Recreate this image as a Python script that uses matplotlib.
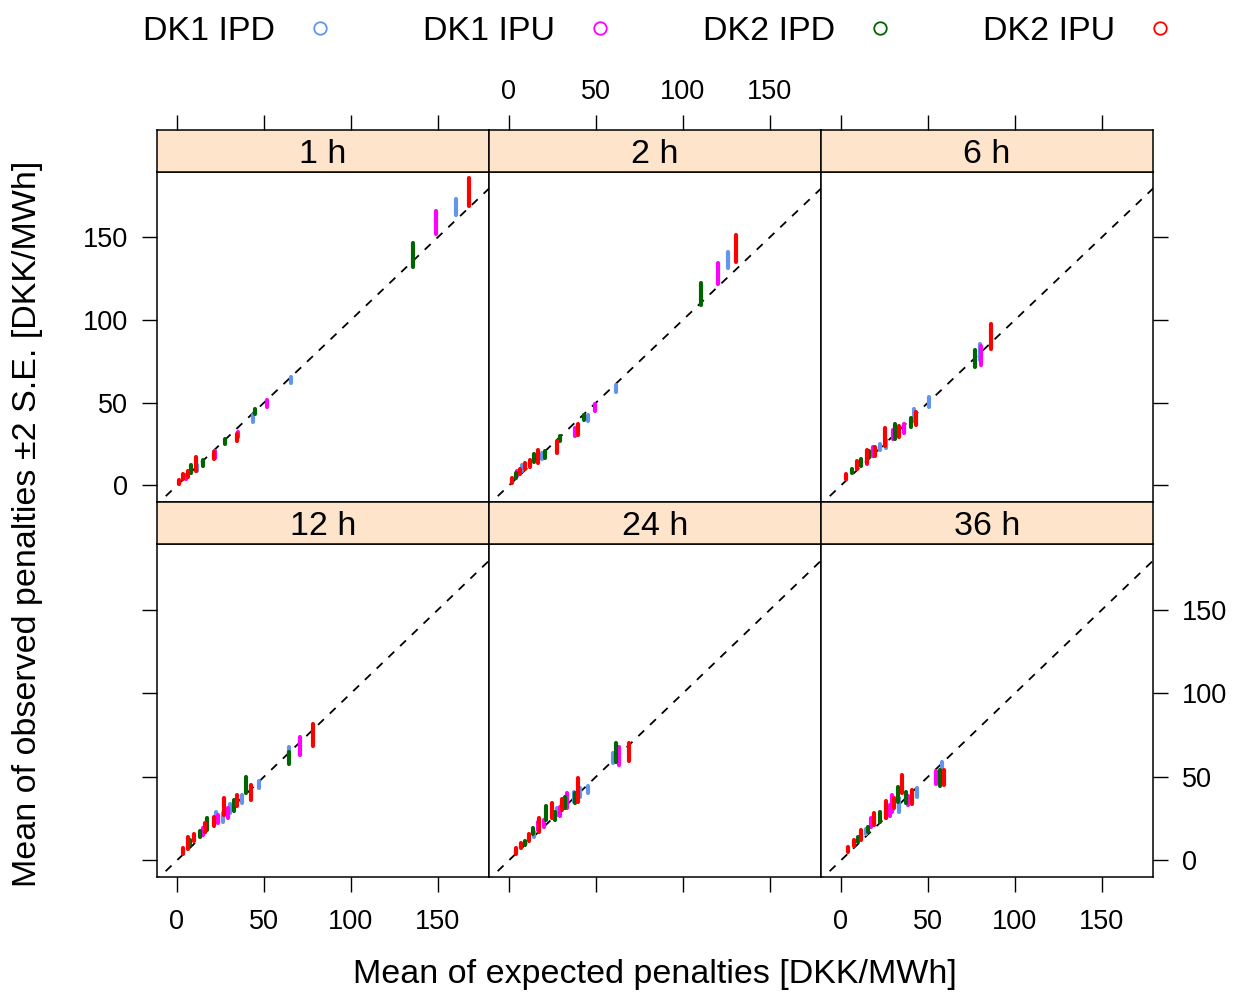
import matplotlib
matplotlib.use("Agg")
import matplotlib.pyplot as plt
from matplotlib.lines import Line2D

plt.rcParams["font.family"] = ["Liberation Sans", "DejaVu Sans"]

# series: B = DK1 IPD, M = DK1 IPU, G = DK2 IPD, R = DK2 IPU
series_names = ["DK1 IPD", "DK1 IPU", "DK2 IPD", "DK2 IPU"]
series_codes = ["B", "M", "G", "R"]
series_colors = {"B": "#6495ED", "M": "#FF00FF", "G": "#006400", "R": "#FF0000"}

panel_titles = ["1 h", "2 h", "6 h", "12 h", "24 h", "36 h"]

# each row: (series, mean expected, lower, upper)
h1 = [
    ("R", 168, 169, 186), ("B", 160.5, 163.7, 173.3), ("M", 149, 151.8, 165.8),
    ("G", 136, 132.1, 146.6), ("B", 65.7, 61.8, 65.8), ("M", 51.7, 47.4, 51.8),
    ("G", 44.6, 43.4, 46.4), ("B", 44, 38.4, 42.4), ("R", 34.5, 26.7, 31.3),
    ("M", 35.3, 29, 32.1), ("G", 27.8, 25.3, 28.1), ("M", 22, 16.7, 20.7),
    ("R", 21.1, 15.7, 20.1), ("G", 14.8, 12, 15.2), ("R", 11.1, 8.6, 17.3),
    ("B", 11.4, 9, 12.2), ("G", 8.2, 7.6, 12.2), ("R", 6.1, 5.2, 8.6),
    ("M", 5, 4, 6.4), ("R", 3.7, 4, 7.2), ("R", 1, 0.6, 3.6),
]
h2 = [
    ("R", 130.6, 135.1, 151.2), ("B", 126.2, 131.7, 141.2), ("M", 120.3, 121.5, 134.7),
    ("G", 110.7, 109, 122.5), ("B", 61.3, 56.8, 60.8), ("M", 49.4, 44.8, 49.2),
    ("G", 42.9, 39.8, 42.8), ("B", 45.3, 38.8, 42.8), ("R", 39.8, 30.7, 37.3),
    ("M", 37.9, 29.7, 34.7), ("G", 29.1, 26.7, 29.7), ("R", 27.8, 19.7, 26.7),
    ("G", 20.5, 16.3, 20.7), ("B", 18.8, 16.1, 19.7), ("R", 16.9, 13.7, 21.7),
    ("G", 14.6, 14.1, 19.3), ("R", 11.9, 11, 15.3), ("R", 9.2, 9.7, 13.7),
    ("B", 7.7, 8.7, 12.1), ("R", 6.1, 6.7, 10.1), ("M", 4.8, 5.7, 8.7),
    ("G", 3.8, 4.7, 7.3), ("R", 1.5, 1.7, 4.7),
]
h6 = [
    ("R", 86.4, 82.3, 97.6), ("B", 79.9, 75.9, 85.5), ("M", 80.8, 72.9, 84.3),
    ("G", 77, 71.5, 81.9), ("B", 50.4, 47.2, 53.2), ("B", 42.1, 38.7, 46.2),
    ("R", 42.9, 36.7, 44.2), ("G", 40.2, 35.4, 40.8), ("M", 36, 31.7, 37.3),
    ("R", 33.5, 29.3, 36.1), ("G", 31, 28.1, 37.3), ("M", 29.7, 28.1, 33.3),
    ("R", 25.3, 23.7, 34.7), ("B", 25.9, 22.7, 27.7), ("B", 22.4, 21.7, 25.3),
    ("R", 19.7, 17.7, 23.3), ("M", 18.2, 18.1, 23.3), ("G", 16.3, 17.3, 20.7),
    ("R", 14.8, 13.3, 21.7), ("M", 14.8, 12.7, 17.3), ("G", 11.5, 11.7, 15.7),
    ("R", 9, 9.7, 14.7), ("G", 6.1, 7.3, 9.7), ("R", 2.9, 3.7, 6.7),
]
h12 = [
    ("R", 78, 68.7, 81.7), ("M", 70.9, 63.3, 73.7), ("B", 64.5, 61.3, 67.7),
    ("G", 64.2, 57.8, 64.9), ("B", 47, 43.2, 47.6), ("G", 39.8, 40.2, 49.8),
    ("R", 42.5, 36.1, 45.2), ("R", 34.5, 32.7, 39.2), ("B", 37.4, 34.1, 39.2),
    ("G", 32.6, 29.5, 36.1), ("B", 30.7, 28.1, 33.7), ("M", 29.3, 25.5, 31.1),
    ("R", 26.8, 27.1, 37.2), ("B", 26.4, 23.1, 28.1), ("M", 23.6, 22.1, 27.1),
    ("B", 22.6, 24.1, 29.1), ("G", 17.2, 18.1, 25.1), ("R", 21.1, 20.7, 26.1),
    ("R", 15.9, 17.1, 22.1), ("M", 14.8, 15.1, 19.5), ("G", 13.4, 14.1, 17.5),
    ("R", 9.9, 11.5, 15.5), ("R", 6.3, 7, 14.1), ("G", 7.7, 9.1, 12.1),
    ("R", 3.4, 4, 7.1),
]
h24 = [
    ("R", 69, 59.2, 70.3), ("M", 63.2, 57.2, 67.7), ("G", 61.7, 58.8, 70.3),
    ("B", 59.8, 58.2, 64.3), ("B", 45.6, 40.2, 44.8), ("R", 39.8, 35.1, 49.2),
    ("B", 40.6, 38.2, 43.2), ("G", 38.2, 34.1, 40.2), ("B", 37.4, 35.1, 40.8),
    ("M", 33.5, 31.1, 40.2), ("G", 32.2, 31.1, 38.2), ("R", 30.3, 30.1, 36.7),
    ("M", 29.1, 26.7, 32.1), ("B", 27.8, 27.1, 31.5), ("G", 26.4, 24.1, 29.1),
    ("R", 24.5, 25.1, 34.1), ("G", 21.5, 24.1, 32.7), ("M", 20.1, 20.1, 24.1),
    ("R", 17.2, 17.1, 25.5), ("M", 16.9, 18.1, 22.7), ("G", 13.8, 15.5, 19.1),
    ("B", 14.4, 14.1, 17.1), ("R", 11.5, 11.5, 15.5), ("G", 9.2, 9.1, 11.5),
    ("R", 6.7, 7.5, 10.5), ("R", 3.8, 4, 7.1),
]
h36 = [
    ("B", 57.9, 51.2, 58.8), ("R", 59.3, 45.2, 54.2), ("G", 56.9, 44.8, 54.2),
    ("M", 54.6, 45.6, 53.6), ("B", 43.7, 38.2, 43.2), ("R", 41, 33.6, 42.2),
    ("M", 38.5, 33.1, 38.8), ("G", 37.6, 34.1, 41.2), ("R", 35.1, 40.2, 51.2),
    ("G", 32.8, 35.1, 44.2), ("B", 33.6, 29.1, 37.2), ("M", 29.1, 29.1, 39.2),
    ("R", 30.7, 31.1, 37.6), ("M", 28.2, 26.5, 33.1), ("R", 25.9, 25.5, 35.6),
    ("M", 25.9, 25.1, 30.1), ("G", 22.6, 23.1, 29.1), ("R", 18.8, 21.1, 28.1),
    ("M", 17.2, 20.1, 25.1), ("G", 15.3, 16.7, 20.1), ("B", 14.4, 15.5, 18.7),
    ("R", 11.5, 12.1, 18.1), ("G", 9.9, 11.1, 14.1), ("R", 7.3, 8.7, 12.1),
    ("R", 4.2, 5.1, 8.1),
]
panels = [h1, h2, h6, h12, h24, h36]

ticks = [0, 50, 100, 150]
xlim = (-11.5, 179.5)
ylim = (-10, 189.5)

W, H = 1234, 992
fig = plt.figure(figsize=(W / 100, H / 100), dpi=100)


def rect(left, top, width, height):
    return [left / W, 1 - (top + height) / H, width / W, height / H]


col_left = [157, 489, 821]
row_top = [172, 544]
row_h = [330, 333]
strip_h = 42
tick_font = 19.5
big_font = 24.5

for i, data in enumerate(panels):
    r, c = divmod(i, 3)
    ax = fig.add_axes(rect(col_left[c], row_top[r], 332, row_h[r]))
    st = fig.add_axes(rect(col_left[c], row_top[r] - strip_h, 332, strip_h))

    # y = x reference
    ax.plot([-20, 200], [-20, 200], color="black", lw=1.3, ls=(0, (4.5, 4.5)))
    for code in series_codes:
        for s, xm, lo, hi in data:
            if s == code:
                ax.plot([xm, xm], [lo, hi], color=series_colors[code], lw=3.0,
                        solid_capstyle="round")
    ax.set_xlim(xlim)
    ax.set_ylim(ylim)
    ax.set_xticks(ticks)
    ax.set_yticks(ticks)
    for sp in ax.spines.values():
        sp.set_linewidth(1.1)
    ax.tick_params(direction="out", length=10.8, width=1.0, labelsize=tick_font,
                   pad=10)
    ax.tick_params(axis="x", pad=12)

    # x axis: top row gets ticks above strip, bottom row gets ticks below panel
    if r == 0:
        ax.tick_params(axis="x", bottom=False, labelbottom=False, top=False, labeltop=False)
    else:
        ax.tick_params(axis="x", bottom=True, labelbottom=(c != 1), top=False, labeltop=False)
    # y axis: left column ticks on left, right column ticks on right
    ax.tick_params(axis="y", left=(c == 0), labelleft=(c == 0 and r == 0),
                   right=(c == 2), labelright=(c == 2 and r == 1))

    st.set_facecolor("#FDE4CB")
    st.set_xlim(xlim)
    st.set_yticks([])
    for sp in st.spines.values():
        sp.set_linewidth(1.1)
    if r == 0:
        st.set_xticks(ticks)
        st.tick_params(axis="x", direction="out", length=10.8, width=1.0,
                       labelsize=tick_font, pad=7, bottom=False, labelbottom=False,
                       top=True, labeltop=(c == 1))
    else:
        st.set_xticks([])
    st.text(0.5, 0.42, panel_titles[i], transform=st.transAxes, ha="center",
            va="center", fontsize=big_font)

# legend row along the top
for k, name in enumerate(series_names):
    x0 = (143 + 280 * k) / W
    fig.text(x0, 1 - 31 / H, name, ha="left", va="center", fontsize=big_font)
    fig.add_artist(Line2D([(320 + 280 * k) / W], [1 - 28 / H], marker="o",
                          markersize=9, markerfacecolor="none", markeredgewidth=1.3,
                          color=series_colors[series_codes[k]], linestyle="none"))

fig.text(655 / W, 1 - 975 / H, "Mean of expected penalties [DKK/MWh]",
         ha="center", va="center", fontsize=big_font)
fig.text(28 / W, 1 - 524 / H, "Mean of observed penalties \u00b12 S.E. [DKK/MWh]",
         ha="center", va="center", rotation=90, fontsize=big_font)

fig.savefig("out.png", dpi=100)
